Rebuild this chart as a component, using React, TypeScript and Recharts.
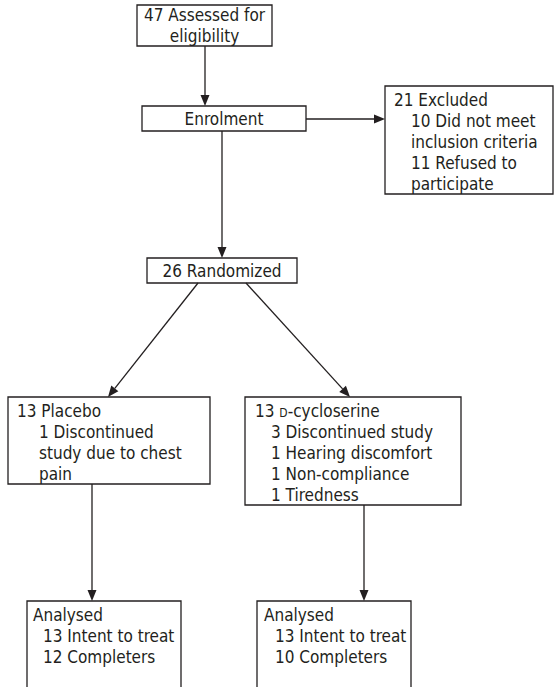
import React from 'react';
import { ComposedChart, XAxis, YAxis, ReferenceArea, ReferenceLine } from 'recharts';

// participant flow: text of each box (indent 1 = sub item)
type Row = { text: React.ReactNode; indent?: number };

const assessedRows: Row[] = [{ text: '47 Assessed for' }, { text: 'eligibility' }];
const enrolmentRows: Row[] = [{ text: 'Enrolment' }];
const excludedRows: Row[] = [
  { text: '21 Excluded' },
  { text: '10 Did not meet', indent: 1 },
  { text: 'inclusion criteria', indent: 1 },
  { text: '11 Refused to', indent: 1 },
  { text: 'participate', indent: 1 },
];
const randomizedRows: Row[] = [{ text: '26 Randomized' }];
const placeboRows: Row[] = [
  { text: '13 Placebo' },
  { text: '1 Discontinued', indent: 1 },
  { text: 'study due to chest', indent: 1 },
  { text: 'pain', indent: 1 },
];
const dcsRows: Row[] = [
  { text: <>13 <tspan fontSize={12}>D</tspan>-cycloserine</> },
  { text: '3 Discontinued study', indent: 1 },
  { text: '1 Hearing discomfort', indent: 1 },
  { text: '1 Non-compliance', indent: 1 },
  { text: '1 Tiredness', indent: 1 },
];
const analysedPlaceboRows: Row[] = [
  { text: 'Analysed' },
  { text: '13 Intent to treat', indent: 1 },
  { text: '12 Completers', indent: 1 },
];
const analysedDcsRows: Row[] = [
  { text: 'Analysed' },
  { text: '13 Intent to treat', indent: 1 },
  { text: '10 Completers', indent: 1 },
];

const W = 554;
const H = 687;
const INK = '#231f20';
const FONT = "'DejaVu Sans Condensed', 'Liberation Sans Narrow', 'Arial Narrow', sans-serif";
const FS = 17;
const LH = 21.2;

// box layout in diagram units
const boxes = [
  { rows: assessedRows, x1: 137, x2: 272, y1: 5, y2: 46, center: true },
  { rows: enrolmentRows, x1: 142, x2: 306, y1: 106, y2: 131, center: true },
  { rows: excludedRows, x1: 385, x2: 553, y1: 86, y2: 194, pad: 9, indent: 17 },
  { rows: randomizedRows, x1: 147, x2: 297, y1: 258, y2: 283, center: true },
  { rows: placeboRows, x1: 8, x2: 210, y1: 397, y2: 484, pad: 9, indent: 22 },
  { rows: dcsRows, x1: 245, x2: 461, y1: 397, y2: 505, pad: 10, indent: 16 },
  { rows: analysedPlaceboRows, x1: 27, x2: 181, y1: 601, y2: 700, pad: 6, indent: 10 },
  { rows: analysedDcsRows, x1: 257, x2: 411, y1: 601, y2: 700, pad: 7, indent: 11 },
];

const arrows = [
  [205, 46, 205, 106],
  [306, 119, 385, 119],
  [222, 131, 222, 258],
  [198, 283, 108, 397],
  [246, 283, 350, 397],
  [92, 484, 92, 601],
  [364, 505, 364, 601],
];

const boxLabel = (b: any) => (props: any) => {
  const vb = props.viewBox || {};
  const { x, y, width, height } = vb;
  const n = b.rows.length;
  const firstY = b.center ? y + height / 2 - ((n - 1) * LH) / 2 + FS * 0.36 : y + 19.5;
  return (
    <text fontFamily={FONT} fontSize={FS} fill={INK} textAnchor={b.center ? 'middle' : 'start'}>
      {b.rows.map((r: Row, i: number) => (
        <tspan
          key={i}
          x={b.center ? x + width / 2 : x + b.pad + (r.indent ? b.indent : 0)}
          y={firstY + i * LH}
        >
          {r.text}
        </tspan>
      ))}
    </text>
  );
};

const Arrow = (props: any) => {
  const { x1, y1, x2, y2 } = props;
  const a = Math.atan2(y2 - y1, x2 - x1);
  const len = 11;
  const hw = 4.5;
  const bx = x2 - len * Math.cos(a);
  const by = y2 - len * Math.sin(a);
  const px = -Math.sin(a) * hw;
  const py = Math.cos(a) * hw;
  return (
    <g>
      <line x1={x1} y1={y1} x2={bx} y2={by} stroke={INK} strokeWidth={1.3} />
      <polygon points={`${x2},${y2} ${bx + px},${by + py} ${bx - px},${by - py}`} fill={INK} />
    </g>
  );
};

export default function App() {
  return (
    <div style={{ position: 'absolute', left: 0, top: 0, background: '#fff' }}>
      <ComposedChart width={W} height={H} data={[{ x: 0, y: 0 }]} margin={{ top: 0, right: 0, bottom: 0, left: 0 }}>
        <XAxis type="number" dataKey="x" domain={[0, W]} hide allowDataOverflow />
        <YAxis type="number" dataKey="y" domain={[0, H]} reversed hide allowDataOverflow />
        {boxes.map((b, i) => (
          <ReferenceArea
            key={`box-${i}`}
            x1={b.x1}
            x2={b.x2}
            y1={b.y1}
            y2={b.y2}
            ifOverflow="visible"
            fill="#fff"
            fillOpacity={1}
            stroke={INK}
            strokeWidth={1.3}
            label={{ content: boxLabel(b) }}
          />
        ))}
        {arrows.map((s, i) => (
          <ReferenceLine
            key={`arrow-${i}`}
            segment={[{ x: s[0], y: s[1] }, { x: s[2], y: s[3] }]}
            ifOverflow="visible"
            shape={(p: any) => <Arrow {...p} />}
          />
        ))}
      </ComposedChart>
    </div>
  );
}
